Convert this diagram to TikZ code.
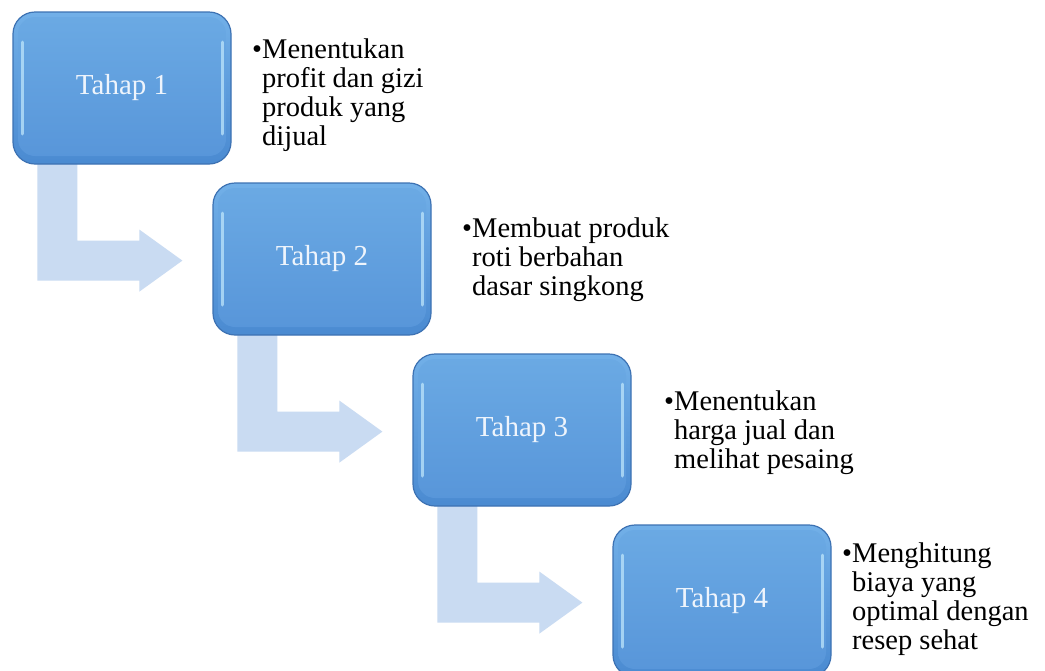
\documentclass[tikz,border=0pt]{standalone}
\usepackage{fontspec}
\setmainfont{Liberation Serif}
\usetikzlibrary{calc,backgrounds}
\definecolor{arrowblue}{HTML}{C9DBF2}
\definecolor{rimblue}{HTML}{3D72B3}
\definecolor{topblue}{HTML}{72B0E8}
\definecolor{botblue}{HTML}{4A8AD1}
\definecolor{facetop}{HTML}{6BAAE4}
\definecolor{facebot}{HTML}{5795D9}
\definecolor{hilite}{HTML}{BDE5FB}
\definecolor{boxtext}{HTML}{EEF4FC}
\tikzset{
 stagebox/.style={draw=rimblue, line width=1.2pt, top color=topblue, bottom color=botblue,
   rounded corners=22pt, minimum width=218pt, minimum height=152pt, inner sep=0pt,
   text=boxtext, font=\fontsize{29}{30}\selectfont,
   path picture={
     \shade[top color=facetop, bottom color=facebot, rounded corners=17pt]
       ($(path picture bounding box.north west)+(5,5)$) rectangle ($(path picture bounding box.south east)+(-5,-8)$);
     \draw[hilite, line width=3pt, line cap=round, opacity=0.75]
       ($(path picture bounding box.north west)+(9,30)$) -- ($(path picture bounding box.south west)+(9,-30)$);
     \draw[hilite, line width=3pt, line cap=round, opacity=0.75]
       ($(path picture bounding box.north east)+(-9,30)$) -- ($(path picture bounding box.south east)+(-9,-30)$);
   }},
 bentarrow/.style={fill=arrowblue},
 desc/.style={anchor=base west, inner sep=0pt, font=\fontsize{28.5}{29}\selectfont, text=black},
}
\begin{document}
\begin{tikzpicture}[x=1pt,y=-1pt]
\useasboundingbox (0,0) rectangle (1045,670);
\clip (0,0) rectangle (1045,670);

\node[stagebox] (b1) at (122,88) {Tahap 1};
\node[stagebox] (b2) at (322,259) {Tahap 2};
\node[stagebox] (b3) at (522,430) {Tahap 3};
\node[stagebox] (b4) at (722,601) {Tahap 4};

\begin{scope}[on background layer]
\fill[white] (0,0) rectangle (1045,670);
\foreach \b in {b1,b2,b3}{
  \fill[bentarrow] ($(\b.south west)+(25,-14)$) -- ++(40,0) -- ++(0,90) -- ++(62,0)
    -- ++(0,-11) -- ++(43,31) -- ++(-43,31) -- ++(0,-11) -- ++(-102,0) -- cycle;
}
\end{scope}

\node[desc] (d1) at (252,58) {\begin{tabular}[t]{@{}l@{}l@{}}•&Menentukan\\&profit dan gizi\\&produk yang\\&dijual\end{tabular}};
\node[desc] (d2) at (462,237) {\begin{tabular}[t]{@{}l@{}l@{}}•&Membuat produk\\&roti berbahan\\&dasar singkong\end{tabular}};
\node[desc] (d3) at (664,410) {\begin{tabular}[t]{@{}l@{}l@{}}•&Menentukan\\&harga jual dan\\&melihat pesaing\end{tabular}};
\node[desc] (d4) at (842,562) {\begin{tabular}[t]{@{}l@{}l@{}}•&Menghitung\\&biaya yang\\&optimal dengan\\&resep sehat\end{tabular}};
\end{tikzpicture}
\end{document}
